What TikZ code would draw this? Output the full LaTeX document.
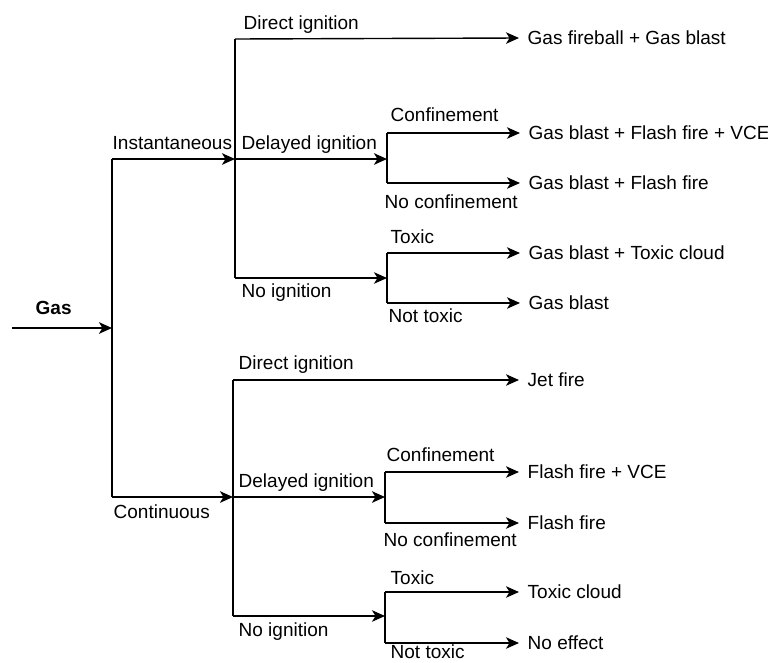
\documentclass[tikz,border=0pt]{standalone}
\usepackage{fontspec}
\setmainfont{Liberation Sans}
\usetikzlibrary{arrows.meta}
\begin{document}
\begin{tikzpicture}%
[x=1pt, y=-1pt, line width=1.4pt,
every node/.style={inner sep=0pt, anchor=west, font=\fontsize{19}{22}\selectfont},
result/.style={inner xsep=8pt},
arr/.style={-{Stealth[length=13pt,width=11.5pt,inset=3.5pt]}},
main/.style={line width=2pt}]
\useasboundingbox (0,0) rectangle (768,662);
% labels
\node (gas) at (35,308) [font=\fontsize{19}{22}\selectfont\bfseries] {Gas};
\node (inst) at (112,143) {Instantaneous};
\node (cont) at (113,512) {Continuous};
\node (iDirLbl) at (243,25) {Direct ignition};
\node (iDelLbl) at (241,145) {Delayed ignition};
\node (iNoLbl) at (241,293) {No ignition};
\node (iConfLbl) at (390,115) {Confinement};
\node (iNoConfLbl) at (384,202) {No confinement};
\node (iToxLbl) at (390,237) {Toxic};
\node (iNotToxLbl) at (388,316) {Not toxic};
\node (cDirLbl) at (238,365) {Direct ignition};
\node (cDelLbl) at (238,483) {Delayed ignition};
\node (cNoLbl) at (238,632) {No ignition};
\node (cConfLbl) at (386,455) {Confinement};
\node (cNoConfLbl) at (383,540) {No confinement};
\node (cToxLbl) at (390,578) {Toxic};
\node (cNotToxLbl) at (390,652) {Not toxic};
% outcomes
\node (fireball) at (519,38) [result] {Gas fireball + Gas blast};
\node (iVce) at (520,133) [result] {Gas blast + Flash fire + VCE};
\node (iFlash) at (520,183) [result] {Gas blast + Flash fire};
\node (iCloud) at (520,253) [result] {Gas blast + Toxic cloud};
\node (iBlast) at (520,303) [result] {Gas blast};
\node (jet) at (519,380) [result] {Jet fire};
\node (cVce) at (519,472) [result] {Flash fire + VCE};
\node (cFlash) at (519,523) [result] {Flash fire};
\node (cCloud) at (519,592) [result] {Toxic cloud};
\node (cNone) at (519,643) [result] {No effect};
% junctions
\coordinate (gasIn) at (12,328);
\coordinate (gasJ) at (112,328);
\coordinate (instJ) at (112,159);
\coordinate (contJ) at (112,497);
\coordinate (instV) at (235,159);
\coordinate (contV) at (233,497);
\coordinate (iDir) at (235,39);
\coordinate (iNo) at (235,278);
\coordinate (iDelV) at (387,159);
\coordinate (iNoV) at (387,278);
\coordinate (iConf) at (387,133);
\coordinate (iNoConf) at (387,183);
\coordinate (iTox) at (387,253);
\coordinate (iNotTox) at (387,303);
\coordinate (cDir) at (233,380);
\coordinate (cNo) at (233,616);
\coordinate (cDelV) at (385,497);
\coordinate (cNoV) at (385,616);
\coordinate (cConf) at (385,472);
\coordinate (cNoConf) at (385,523);
\coordinate (cTox) at (385,592);
\coordinate (cNotTox) at (385,643);
% trunk
\draw [arr, line width=2.8pt] (gasIn) -- (gasJ);
\draw [main] (instJ) -- (contJ);
\draw [arr, main] (instJ) -- (instV);
\draw [arr, main] (contJ) -- (contV);
% instantaneous
\draw (iDir) -- (iNo);
\draw [arr] (iDir) -- (fireball.west);
\draw [arr, main] (instV) -- (iDelV);
\draw [arr] (iNo) -- (iNoV);
\draw [main] (iConf) -- (iNoConf);
\draw [arr] (iConf) -- (iVce.west);
\draw [arr] (iNoConf) -- (iFlash.west);
\draw (iTox) -- (iNotTox);
\draw [arr] (iTox) -- (iCloud.west);
\draw [arr] (iNotTox) -- (iBlast.west);
% continuous
\draw (cDir) -- (cNo);
\draw [arr] (cDir) -- (jet.west);
\draw [arr, main] (contV) -- (cDelV);
\draw [arr] (cNo) -- (cNoV);
\draw (cConf) -- (cNoConf);
\draw [arr] (cConf) -- (cVce.west);
\draw [arr] (cNoConf) -- (cFlash.west);
\draw (cTox) -- (cNotTox);
\draw [arr] (cTox) -- (cCloud.west);
\draw [arr] (cNotTox) -- (cNone.west);
\end{tikzpicture}
\end{document}
